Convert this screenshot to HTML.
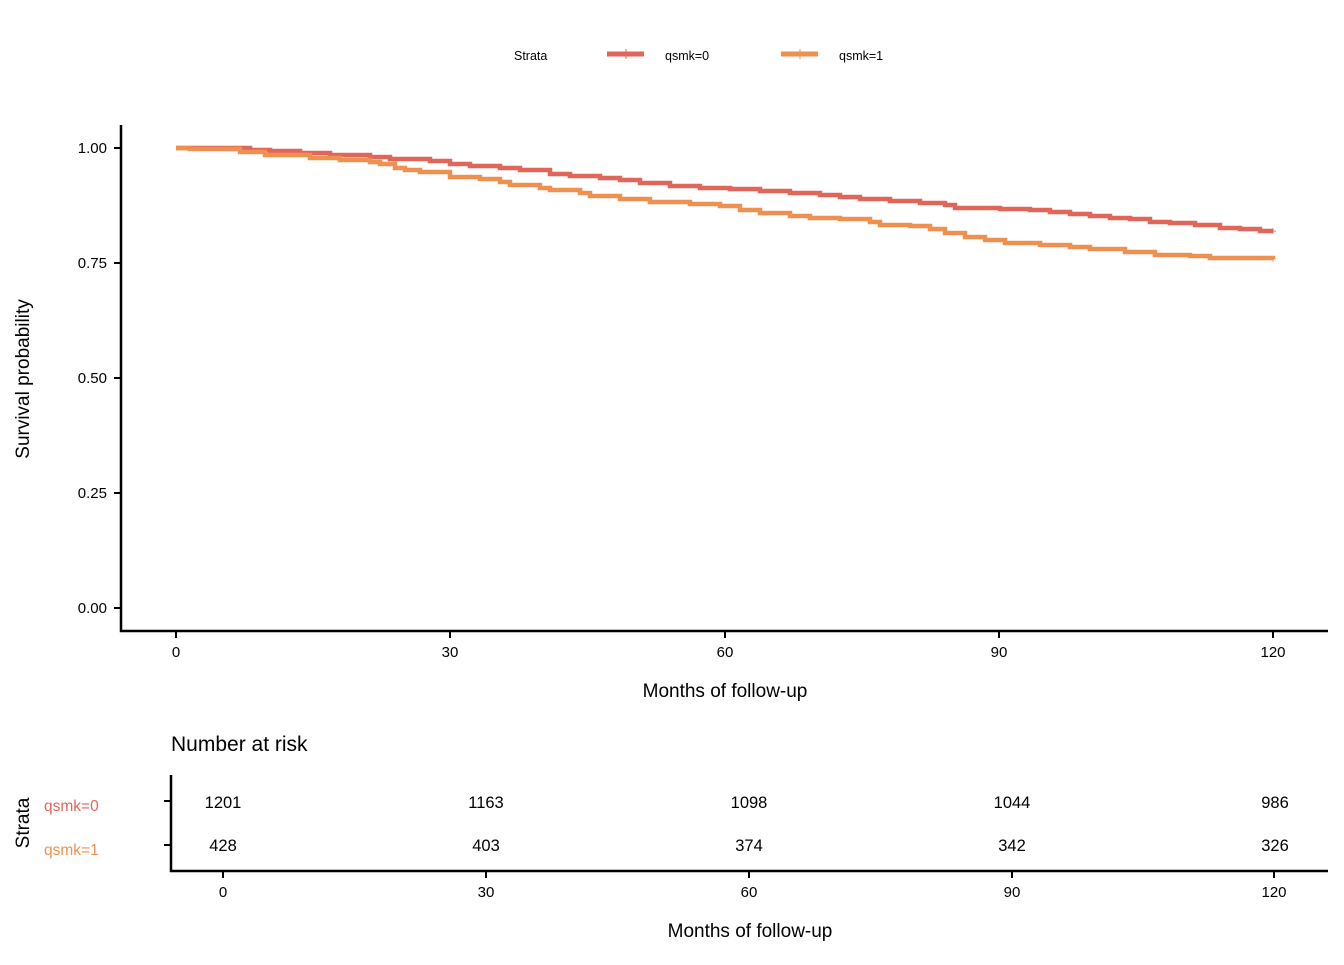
<!DOCTYPE html>
<html><head><meta charset="utf-8"><style>body{margin:0;background:#fff}svg text{font-family:"Liberation Sans",sans-serif;fill:#000}</style></head>
<body>
<svg width="1344" height="960" xmlns="http://www.w3.org/2000/svg">
<text x="514" y="60" font-size="12.5">Strata</text>
<line x1="607" y1="54" x2="644" y2="54" stroke="#E0665A" stroke-width="5"/><line x1="626" y1="49" x2="626" y2="59" stroke="#E0665A" stroke-width="1"/>
<text x="665" y="60" font-size="12.5">qsmk=0</text>
<line x1="781" y1="54" x2="818" y2="54" stroke="#EE9150" stroke-width="5"/><line x1="800" y1="49" x2="800" y2="59" stroke="#EE9150" stroke-width="1"/>
<text x="839" y="60" font-size="12.5">qsmk=1</text>
<g stroke="#000" stroke-width="2.5" fill="none"><path d="M121,125 V631 H1328"/></g>
<g stroke="#000" stroke-width="2"><line x1="114" y1="148" x2="121" y2="148"/><line x1="114" y1="263" x2="121" y2="263"/><line x1="114" y1="378" x2="121" y2="378"/><line x1="114" y1="493" x2="121" y2="493"/><line x1="114" y1="608" x2="121" y2="608"/>
<line x1="176" y1="631" x2="176" y2="638"/><line x1="450" y1="631" x2="450" y2="638"/><line x1="725" y1="631" x2="725" y2="638"/><line x1="999" y1="631" x2="999" y2="638"/><line x1="1273" y1="631" x2="1273" y2="638"/></g>
<g font-size="15" text-anchor="end"><text x="107" y="153">1.00</text><text x="107" y="268">0.75</text><text x="107" y="383">0.50</text><text x="107" y="498">0.25</text><text x="107" y="613">0.00</text></g>
<g font-size="15" text-anchor="middle"><text x="176" y="657">0</text><text x="450" y="657">30</text><text x="725" y="657">60</text><text x="999" y="657">90</text><text x="1273" y="657">120</text></g>
<text x="725" y="697" font-size="19" text-anchor="middle">Months of follow-up</text>
<text transform="translate(29,379) rotate(-90)" font-size="19" text-anchor="middle">Survival probability</text>
<path id="r" fill="none" stroke="#E0665A" stroke-width="4.5"/>
<path id="o" fill="none" stroke="#EE9150" stroke-width="4.5"/>
<text x="1273" y="235" font-size="12" text-anchor="middle" style="fill:#E0665A">+</text>
<text x="1273" y="263" font-size="12" text-anchor="middle" style="fill:#EE9150">+</text>
<text x="171" y="751" font-size="21">Number at risk</text>
<g stroke="#000" stroke-width="2.5" fill="none"><path d="M171,775 V871 H1328"/></g>
<g stroke="#000" stroke-width="2"><line x1="164" y1="801" x2="171" y2="801"/><line x1="164" y1="845" x2="171" y2="845"/>
<line x1="223" y1="871" x2="223" y2="878"/><line x1="486" y1="871" x2="486" y2="878"/><line x1="749" y1="871" x2="749" y2="878"/><line x1="1012" y1="871" x2="1012" y2="878"/><line x1="1274" y1="871" x2="1274" y2="878"/></g>
<text x="44" y="811" font-size="15.5" style="fill:#E0665A">qsmk=0</text>
<text x="44" y="855" font-size="15.5" style="fill:#EE9150">qsmk=1</text>
<text transform="translate(29,823) rotate(-90)" font-size="19" text-anchor="middle">Strata</text>
<g font-size="16.5" text-anchor="middle"><text x="223" y="808">1201</text><text x="486" y="808">1163</text><text x="749" y="808">1098</text><text x="1012" y="808">1044</text><text x="1275" y="808">986</text>
<text x="223" y="851">428</text><text x="486" y="851">403</text><text x="749" y="851">374</text><text x="1012" y="851">342</text><text x="1275" y="851">326</text></g>
<g font-size="15" text-anchor="middle"><text x="223" y="897">0</text><text x="486" y="897">30</text><text x="749" y="897">60</text><text x="1012" y="897">90</text><text x="1274" y="897">120</text></g>
<text x="750" y="937" font-size="19" text-anchor="middle">Months of follow-up</text>
</svg>
<script>
function st(p){var d="M"+p[0][0]+","+p[0][1];for(var i=1;i<p.length;i++){d+=" H"+p[i][0]+" V"+p[i][1];}return d;}
var r=[[176,148],[215,148],[250,150],[270,151],[300,153],[330,155],[370,157],[390,159],[430,161],[450,164],[470,166],[500,168],[520,170],[550,174],[570,176],[600,178],[620,180],[640,183],[670,186],[700,188],[730,189],[760,191],[790,193],[820,195],[840,197],[860,199],[890,201],[920,203],[945,205],[955,208],[1000,209],[1030,210],[1050,212],[1070,214],[1090,216],[1110,218],[1130,219],[1150,222],[1170,223],[1195,225],[1220,228],[1240,229],[1260,231],[1273,231]];
var o=[[176,148],[190,149],[240,152],[265,155],[310,158],[340,160],[370,162],[380,164],[395,168],[405,170],[420,172],[450,177],[480,179],[500,182],[510,185],[540,188],[550,190],[580,193],[590,196],[620,199],[650,202],[690,204],[720,206],[740,210],[760,213],[790,216],[810,218],[840,219],[870,222],[880,225],[910,226],[930,229],[945,233],[965,237],[985,240],[1005,243],[1040,245],[1070,247],[1090,249],[1125,252],[1155,255],[1190,256],[1210,258],[1273,259]];
document.getElementById("r").setAttribute("d",st(r));
document.getElementById("o").setAttribute("d",st(o));
</script>
</body></html>
